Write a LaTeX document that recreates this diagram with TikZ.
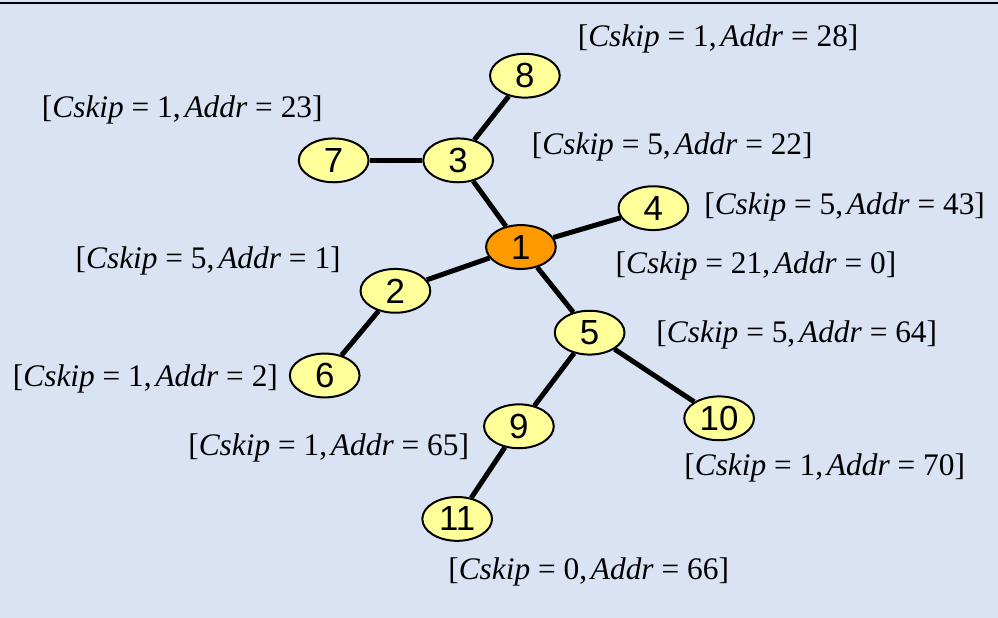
\documentclass[tikz,border=0pt]{standalone}
\usepackage{fontspec}
\setmainfont{Liberation Serif}
\newfontfamily\digitfont{Liberation Sans}
\definecolor{bg}{HTML}{DAE3F3}
\definecolor{nodey}{HTML}{FFFF99}
\definecolor{nodeo}{HTML}{FF9900}
\usetikzlibrary{shapes.geometric}
\tikzset{
  vtx/.style={ellipse, draw=black, line width=2pt, fill=nodey, minimum width=70pt, minimum height=44pt, inner sep=0pt, font=\digitfont\fontsize{35}{35}\selectfont},
  root/.style={vtx, fill=nodeo},
  lbl/.style={inner sep=0pt, font=\fontsize{31.5}{31.5}\selectfont},
  edge/.style={line width=5pt}
}
\newcommand{\eqsp}{\hspace{0.25em}=\hspace{0.25em}}
\newcommand{\cs}[2]{[\textit{Cskip}\eqsp#1,\hspace{0.12em}\textit{Addr}\eqsp#2]}
\begin{document}
\begin{tikzpicture}[x=1pt,y=-1pt]
\fill[bg] (-2,-2) rectangle (1000,618);
\useasboundingbox (0,0) rectangle (998,616);
\draw[line width=2pt] (-2,1) -- (1000,1);
\node[vtx] (n8) at (525,74) {8};
\node[vtx] (n7) at (333,159) {7};
\node[vtx] (n3) at (458,159) {3};
\node[vtx] (n4) at (654,207) {4};
\node[root] (n1) at (521,246) {1};
\node[vtx] (n2) at (395,290) {2};
\node[vtx] (n5) at (590,332) {5};
\node[vtx] (n6) at (324,375) {6};
\node[vtx] (n9) at (519,426) {9};
\node[vtx] (n10) at (720,418) {10};
\node[vtx] (n11) at (457,519) {11};
\draw[edge] (n8) -- (n3);
\draw[edge] (n7) -- (n3);
\draw[edge] (n3) -- (n1);
\draw[edge] (n1) -- (n4);
\draw[edge] (n1) -- (n2);
\draw[edge] (n2) -- (n6);
\draw[edge] (n1) -- (n5);
\draw[edge] (n5) -- (n9);
\draw[edge] (n5) -- (n10);
\draw[edge] (n9) -- (n11);
\node[lbl] (l8) at (719,37) {\cs{1}{28}};
\node[lbl] (l7) at (181,108) {\cs{1}{23}};
\node[lbl] (l3) at (673,146) {\cs{5}{22}};
\node[lbl] (l4) at (846,206) {\cs{5}{43}};
\node[lbl] (l2) at (207,260) {\cs{5}{1}};
\node[lbl] (l1) at (757,265) {\cs{21}{0}};
\node[lbl] (l5) at (798,334) {\cs{5}{64}};
\node[lbl] (l6) at (144,378) {\cs{1}{2}};
\node[lbl] (l9) at (328,448) {\cs{1}{65}};
\node[lbl] (l10) at (826,468) {\cs{1}{70}};
\node[lbl] (l11) at (589,572) {\cs{0}{66}};
\end{tikzpicture}
\end{document}
